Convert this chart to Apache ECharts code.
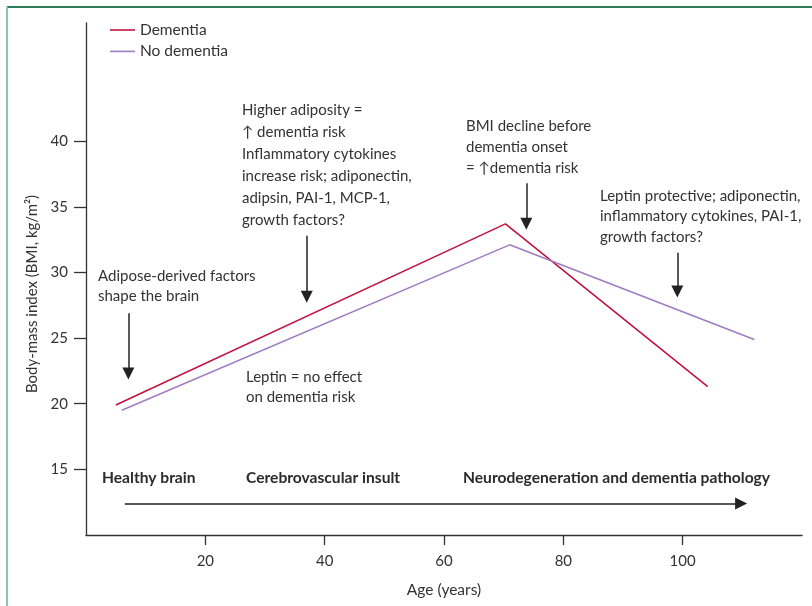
<!DOCTYPE html>
<html>
<head>
<meta charset="utf-8">
<script src="https://cdn.jsdelivr.net/npm/echarts@6/dist/echarts.min.js"></script>
<style>
  html, body { margin: 0; padding: 0; background: #fff; }
  #chart { width: 812px; height: 606px; }
</style>
</head>
<body>
<div id="chart"></div>
<script>
// BMI trajectories across life (age, BMI)
var dementia = [[5, 19.9], [70.3, 33.7], [104.2, 21.3]];
var noDementia = [[6, 19.5], [71, 32.1], [112, 24.9]];

var xTicks = [20, 40, 60, 80, 100];
var yTicks = [15, 20, 25, 30, 35, 40];

// arrows in data space: [x1, y1, x2, y2]
var arrows = [
    [7.1, 26.9, 7.1, 22.3],
    [37.0, 32.8, 37.0, 28.15],
    [73.8, 36.8, 73.8, 33.7],
    [99.1, 31.5, 99.1, 28.55],
    [6.5, 12.4, 109.8, 12.4]
];

var notes = [
    'Adipose-derived factors\nshape the brain',
    'Higher adiposity =\n\u2191 dementia risk\nInflammatory cytokines\nincrease risk; adiponectin,\nadipsin, PAI-1, MCP-1,\ngrowth factors?',
    'BMI decline before\ndementia onset\n= \u2191dementia risk',
    'Leptin protective; adiponectin,\ninflammatory cytokines, PAI-1,\ngrowth factors?',
    'Leptin = no effect\non dementia risk'
];
var stages = ['Healthy brain', 'Cerebrovascular insult', 'Neurodegeneration and dementia pathology'];

var FONT = 'Lato, "Noto Sans", sans-serif';
var TXT = '#333';

var myChart = echarts.init(document.getElementById('chart'));

function note(text, x, midY, lh) {
    return {
        type: 'text', left: x, top: midY - lh / 2, silent: true,
        style: { text: text, font: '15px ' + FONT, fill: TXT, lineHeight: lh, verticalAlign: 'top' }
    };
}
function stage(text, x) {
    return {
        type: 'text', x: x, y: 478, silent: true,
        style: { text: text, font: 'bold 15.6px ' + FONT, fill: '#2b2b2b', verticalAlign: 'middle' }
    };
}

var option = {
    backgroundColor: '#fff',
    animation: false,
    grid: { left: 86, right: 10, top: 23, bottom: 71 },
    legend: {
        data: ['Dementia', 'No dementia'],
        orient: 'vertical',
        left: 105, top: 17,
        icon: 'rect',
        itemWidth: 25, itemHeight: 1.6, itemGap: 5.4,
        textStyle: { fontFamily: FONT, fontSize: 15.5, color: TXT }
    },
    xAxis: {
        type: 'value', min: 0, max: 120,
        name: 'Age (years)', nameLocation: 'middle', nameGap: 47,
        nameTextStyle: { fontFamily: FONT, fontSize: 15.5, color: TXT },
        axisLine: { lineStyle: { color: '#333', width: 1.3 } },
        axisTick: { show: true, length: 10, customValues: xTicks, lineStyle: { color: '#333', width: 1.3 } },
        axisLabel: { customValues: xTicks, margin: 19, fontFamily: FONT, fontSize: 15, color: TXT },
        splitLine: { show: false }
    },
    yAxis: {
        type: 'value', min: 10, max: 49,
        name: 'Body-mass index (BMI, kg/m\u00b2)', nameLocation: 'middle', nameGap: 46,
        nameTextStyle: { fontFamily: FONT, fontSize: 15, color: TXT, padding: [0, 30, 0, 0] },
        axisLine: { show: true, lineStyle: { color: '#333', width: 1.3 } },
        axisTick: { show: true, length: 12, customValues: yTicks, lineStyle: { color: '#333', width: 1.3 } },
        axisLabel: { customValues: yTicks, margin: 18, fontFamily: FONT, fontSize: 15, color: TXT },
        splitLine: { show: false }
    },
    series: [{
        name: 'Dementia', type: 'line', data: dementia, symbol: 'none',
        lineStyle: { color: '#c0143f', width: 1.6 }, itemStyle: { color: '#c0143f' }
    }, {
        name: 'No dementia', type: 'line', data: noDementia, symbol: 'none',
        lineStyle: { color: '#a07cc5', width: 1.6 }, itemStyle: { color: '#a07cc5' }
    }, {
        name: 'arrows', type: 'line', data: [], silent: true,
        markLine: {
            silent: true, animation: false,
            symbol: ['none', 'triangle'], symbolSize: [12, 12],
            label: { show: false },
            lineStyle: { color: '#222', type: 'solid', width: 1.5 },
            data: arrows.map(function (a) {
                return [{ coord: [a[0], a[1]] }, { coord: [a[2], a[3]] }];
            })
        }
    }],
    graphic: [
        { type: 'line', silent: true, shape: { x1: 7, y1: 7, x2: 812, y2: 7 }, style: { stroke: '#2f7d58', lineWidth: 2 } },
        { type: 'line', silent: true, shape: { x1: 7, y1: 7, x2: 7, y2: 606 }, style: { stroke: '#86c7a6', lineWidth: 2 } },
        note(notes[0], 98, 276, 20.5),
        note(notes[1], 242, 110.5, 22),
        note(notes[2], 466, 126, 21),
        note(notes[3], 600, 196, 20.5),
        note(notes[4], 246, 377, 20.5),
        stage(stages[0], 102),
        stage(stages[1], 246),
        stage(stages[2], 463)
    ]
};

myChart.setOption(option);
</script>
</body>
</html>
